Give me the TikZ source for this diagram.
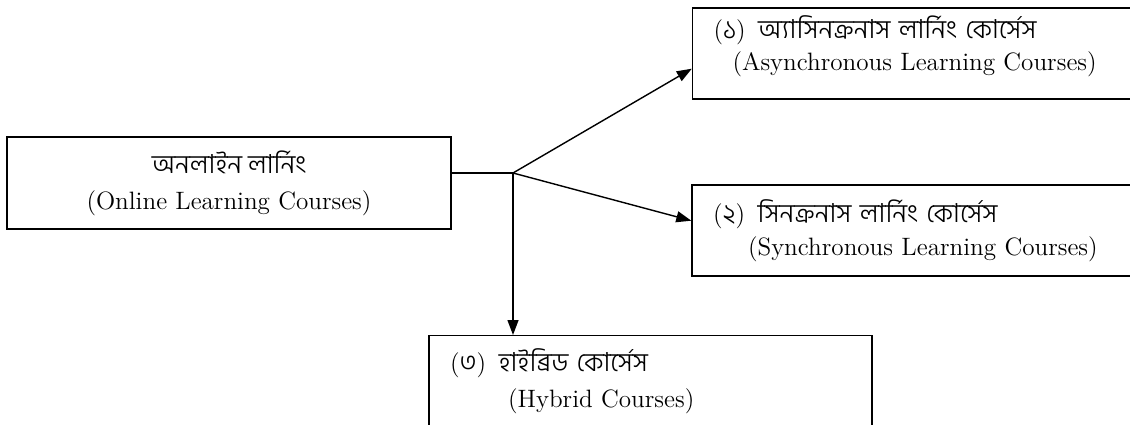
\documentclass[tikz,border=0pt]{standalone}
\usepackage{fontspec}
\newfontfamily\bngfont[Script=Bengali, UprightFont={* Light}]{Hind Siliguri}
\newcommand{\bntext}[1]{{\bngfont\fontsize{15}{18}\selectfont #1}}
\usetikzlibrary{arrows.meta, positioning, calc}

\begin{document}
\begin{tikzpicture}[>={Triangle[length=0.3cm, width=0.22cm]}, line width=0.8pt]
  \useasboundingbox (0,0) rectangle (22.6,8.48);
  \tikzset{course/.style={draw, minimum width=8.86cm, minimum height=1.82cm,
        inner xsep=0.42cm, text width=8.02cm, align=left,
        font=\fontsize{14.3}{19}\selectfont}}

  % main box
  \node[draw, minimum width=8.88cm, minimum height=1.84cm, align=center,
        font=\fontsize{14.3}{20.5}\selectfont] (onl) at (4.58,4.82)
        {\bntext{অনলাইন লার্নিং}\\(Online Learning Courses)};

  % course types
  \node[course, font=\fontsize{14.3}{18}\selectfont,
        text height=10pt, text depth=27pt] (asy) at (18.28,7.41)
        {(\bntext{১})\hspace{0.5em}\bntext{অ্যাসিনক্রনাস লার্নিং কোর্সেস}\\
         \hspace*{0.38cm}(Asynchronous Learning Courses)};
  \node[course] (syn) at (18.27,3.87)
        {(\bntext{২})\hspace{0.5em}\bntext{সিনক্রনাস লার্নিং কোর্সেস}\\
         \hspace*{0.7cm}(Synchronous Learning Courses)};
  \node[course, anchor=north, font=\fontsize{14.3}{21}\selectfont] (hyb) at (13.01,1.78)
        {(\bntext{৩})\hspace{0.5em}\bntext{হাইব্রিড কোর্সেস}\\
         \hspace*{1.16cm}(Hybrid Courses)};

  % connectors
  \coordinate (jn) at (10.26,5.02);
  \draw (onl.east |- jn) -- (jn);
  \draw[->] (jn) -- ($(asy.south west)+(0,0.62)$);
  \draw[->] (jn) -- ($(syn.south west)+(0,1.12)$);
  \draw[->] (jn) -- (jn |- hyb.north);
\end{tikzpicture}
\end{document}
